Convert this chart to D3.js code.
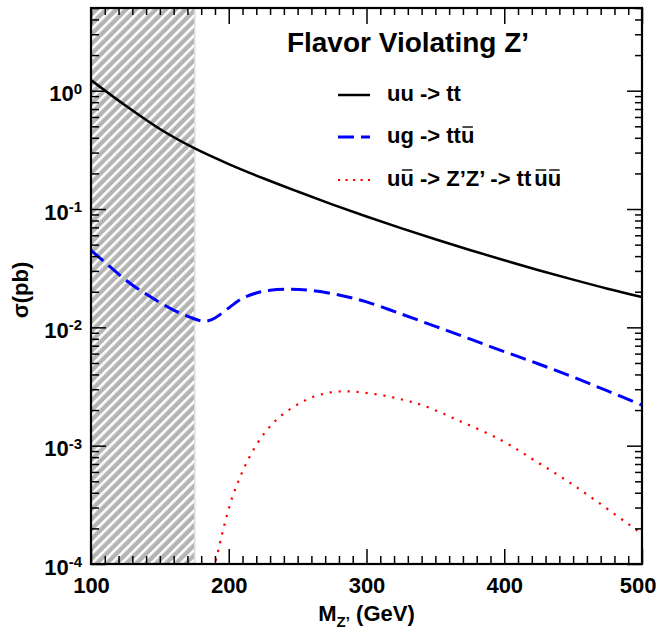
<!DOCTYPE html>
<html>
<head>
<meta charset="utf-8">
<script src="https://cdn.jsdelivr.net/npm/d3@7/dist/d3.min.js"></script>
<style>
  body { margin: 0; background: #fff; }
  svg text { font-family: "Liberation Sans", Arial, Helvetica, sans-serif; font-weight: bold; }
</style>
</head>
<body>
<div id="chart"></div>
<script>
// uu -> tt
var massUU = [100, 125, 150, 175, 200, 225, 250, 275, 300, 325, 350, 375, 400, 425, 450, 475, 500];
var sigmaUU = [1.23, 0.75, 0.475, 0.327, 0.24, 0.182, 0.1406, 0.1096, 0.0865, 0.069, 0.0556, 0.0451, 0.0369, 0.0304, 0.0253, 0.0212, 0.018];

// ug -> tt ubar
var massUG = [100, 110, 120, 130, 140, 150, 160, 170, 180, 185, 190, 200, 210, 220, 230, 245, 260, 280, 300, 325, 350, 375, 400, 425, 450, 475, 500];
var sigmaUG = [0.0447, 0.0356, 0.0282, 0.0228, 0.0191, 0.0162, 0.014, 0.01245, 0.01135, 0.01135, 0.012, 0.0146, 0.0176, 0.0195, 0.0206, 0.021, 0.0205, 0.0188, 0.0164, 0.013, 0.0102, 0.00798, 0.00624, 0.0049, 0.0038, 0.0029, 0.0022];

// u ubar -> Z'Z' -> tt ubar ubar
var massZZ = [189, 192, 195, 198, 202, 207, 212, 219, 227, 236, 248, 260, 274, 287, 301, 315, 328, 341, 367, 398, 422, 445, 468, 496, 500];
var sigmaZZ = [0.9e-4, 1.25e-4, 1.76e-4, 2.4e-4, 3.5e-4, 5.0e-4, 6.8e-4, 9.7e-4, 1.32e-3, 1.71e-3, 2.16e-3, 2.55e-3, 2.82e-3, 2.88e-3, 2.78e-3, 2.62e-3, 2.42e-3, 2.19e-3, 1.63e-3, 1.11e-3, 7.5e-4, 5.1e-4, 3.33e-4, 1.94e-4, 1.8e-4];

var massMajor = [100, 200, 300, 400, 500];
var sigmaDecades = [1e-4, 1e-3, 1e-2, 1e-1, 1];
var excludedMass = [100, 175];

var legendRows = [
    {color: "#000", dash: null, width: 2.5, parts: [{t: "uu -> tt"}]},
    {color: "#0000ff", dash: "16 7", width: 3, parts: [{t: "ug -> tt"}, {t: "u", over: true}]},
    {color: "#ff0000", dash: "2.2 5.3", width: 2.2, parts: [{t: "u"}, {t: "u", over: true}, {t: " -> Z\u2019Z\u2019 -> tt"}, {t: "uu", over: true, dx: 3}]}
];

var W = 658, H = 639;
var area = {l: 91, r: 642, t: 8, b: 564};

var svg = d3.select("#chart").append("svg")
    .attr("width", W).attr("height", H);

var x = d3.scaleLinear().domain([100, 500]).range([area.l, area.r]);
var y = d3.scaleLog().domain([1e-4, 5]).range([area.b, area.t]);

// hatch for excluded region
var defs = svg.append("defs");
var pat = defs.append("pattern")
    .attr("id", "hatch")
    .attr("patternUnits", "userSpaceOnUse")
    .attr("width", 7).attr("height", 7)
    .attr("patternTransform", "rotate(45)");
pat.append("rect").attr("width", 7).attr("height", 7).attr("fill", "#b4b4b4");
pat.append("rect").attr("width", 2.6).attr("height", 7).attr("fill", "#fff");

defs.append("clipPath").attr("id", "clip")
    .append("rect")
    .attr("x", area.l).attr("y", area.t)
    .attr("width", area.r - area.l).attr("height", area.b - area.t);

svg.append("rect")
    .attr("x", x(excludedMass[0])).attr("y", area.t)
    .attr("width", x(excludedMass[1]) - x(excludedMass[0]))
    .attr("height", area.b - area.t)
    .attr("fill", "url(#hatch)");
svg.append("line")
    .attr("x1", x(excludedMass[1]) + 0.5).attr("x2", x(excludedMass[1]) + 0.5)
    .attr("y1", area.t).attr("y2", area.b)
    .attr("stroke", "#dedede").attr("stroke-width", 1.5);

// curves
function series(ms, vs) {
    return ms.map(function(m, i) { return {m: m, v: vs[i]}; });
}
var line = d3.line()
    .x(function(d) { return x(d.m); })
    .y(function(d) { return y(d.v); })
    .curve(d3.curveCatmullRom.alpha(0.5));

var curves = svg.append("g").attr("clip-path", "url(#clip)");
curves.append("path").datum(series(massUU, sigmaUU))
    .attr("d", line).attr("fill", "none")
    .attr("stroke", legendRows[0].color).attr("stroke-width", legendRows[0].width);
curves.append("path").datum(series(massUG, sigmaUG))
    .attr("d", line).attr("fill", "none")
    .attr("stroke", legendRows[1].color).attr("stroke-width", legendRows[1].width)
    .attr("stroke-dasharray", legendRows[1].dash);
curves.append("path").datum(series(massZZ, sigmaZZ))
    .attr("d", line).attr("fill", "none")
    .attr("stroke", legendRows[2].color).attr("stroke-width", legendRows[2].width)
    .attr("stroke-dasharray", "2.2 6.8");

// axes: ticks point inward on all four sides
var minorMass = d3.range(100, 501, 10).filter(function(d) { return d % 100 !== 0; });
var minorSigma = [];
sigmaDecades.concat([10]).forEach(function(dec) {
    for (var k = 2; k <= 9; k++) {
        var v = dec * k;
        if (v <= 5.0001) minorSigma.push(v);
    }
});

function styleAxis(g) {
    g.select(".domain").remove();
    g.selectAll(".tick line").attr("stroke", "#000").attr("stroke-width", 1.5);
    g.attr("font-family", null).attr("font-size", null);
}

// bottom
svg.append("g").attr("transform", "translate(0," + area.b + ")")
    .call(d3.axisBottom(x).tickValues(minorMass).tickSizeInner(-8).tickSizeOuter(0).tickFormat(""))
    .call(styleAxis);
var xb = svg.append("g").attr("transform", "translate(0," + area.b + ")")
    .call(d3.axisBottom(x).tickValues(massMajor).tickSizeInner(-15).tickSizeOuter(0).tickPadding(13).tickFormat(d3.format("d")))
    .call(styleAxis);
xb.selectAll(".tick text").attr("font-size", 22).attr("fill", "#000");
// last label is pulled in so it stays inside the canvas
xb.selectAll(".tick text").filter(function(d) { return d === 500; })
    .attr("text-anchor", "end").attr("x", 14);

// top
svg.append("g").attr("transform", "translate(0," + area.t + ")")
    .call(d3.axisTop(x).tickValues(minorMass).tickSizeInner(-7).tickSizeOuter(0).tickFormat(""))
    .call(styleAxis);
svg.append("g").attr("transform", "translate(0," + area.t + ")")
    .call(d3.axisTop(x).tickValues(massMajor).tickSizeInner(-16).tickSizeOuter(0).tickFormat(""))
    .call(styleAxis);

// left
svg.append("g").attr("transform", "translate(" + area.l + ",0)")
    .call(d3.axisLeft(y).tickValues(minorSigma).tickSizeInner(-8).tickSizeOuter(0).tickFormat(""))
    .call(styleAxis);
var yl = svg.append("g").attr("transform", "translate(" + area.l + ",0)")
    .call(d3.axisLeft(y).tickValues(sigmaDecades).tickSizeInner(-15).tickSizeOuter(0).tickPadding(9).tickFormat(""))
    .call(styleAxis);
yl.selectAll(".tick text")
    .attr("font-size", 22).attr("fill", "#000").attr("dy", 10)
    .each(function(d) {
        var t = d3.select(this);
        t.append("tspan").text("10");
        t.append("tspan").attr("font-size", 15).attr("dy", -7.5).text(Math.round(Math.log10(d)));
    });

// right
svg.append("g").attr("transform", "translate(" + area.r + ",0)")
    .call(d3.axisRight(y).tickValues(minorSigma).tickSizeInner(-7).tickSizeOuter(0).tickFormat(""))
    .call(styleAxis);
svg.append("g").attr("transform", "translate(" + area.r + ",0)")
    .call(d3.axisRight(y).tickValues(sigmaDecades).tickSizeInner(-15).tickSizeOuter(0).tickFormat(""))
    .call(styleAxis);

// frame
svg.append("rect")
    .attr("x", area.l).attr("y", area.t)
    .attr("width", area.r - area.l).attr("height", area.b - area.t)
    .attr("fill", "none").attr("stroke", "#000").attr("stroke-width", 2.2);

// axis titles
var xt = svg.append("text")
    .attr("x", (area.l + area.r) / 2).attr("y", 621)
    .attr("text-anchor", "middle").attr("font-size", 22);
xt.append("tspan").text("M");
xt.append("tspan").attr("font-size", 15).attr("dy", 6).text("Z\u2019");
xt.append("tspan").attr("dy", -6).text(" (GeV)");

svg.append("text")
    .attr("transform", "translate(28," + ((area.t + area.b) / 2 + 4) + ") rotate(-90)")
    .attr("text-anchor", "middle").attr("font-size", 22)
    .text("\u03c3(pb)");

// title
svg.append("text")
    .attr("x", 408).attr("y", 52)
    .attr("text-anchor", "middle").attr("font-size", 28)
    .text("Flavor Violating Z\u2019");

// legend
var legY = [95, 137, 180];
legendRows.forEach(function(row, i) {
    var g = svg.append("g");
    g.append("line")
        .attr("x1", 338).attr("x2", 370)
        .attr("y1", legY[i]).attr("y2", legY[i])
        .attr("stroke", row.color).attr("stroke-width", row.width)
        .attr("stroke-dasharray", row.dash);
    var txt = g.append("text")
        .attr("x", 387).attr("y", legY[i] + 6)
        .attr("font-size", 22).attr("fill", "#000");
    row.parts.forEach(function(p) {
        txt.append("tspan").attr("dx", p.dx || null).text(p.t);
    });
    // overlines for antiquarks
    var node = txt.node(), idx = 0;
    row.parts.forEach(function(p) {
        if (p.over) {
            for (var c = 0; c < p.t.length; c++) {
                var s = node.getStartPositionOfChar(idx + c);
                var e = node.getEndPositionOfChar(idx + c);
                g.append("line")
                    .attr("x1", s.x + 1.5).attr("x2", e.x - 1.5)
                    .attr("y1", legY[i] + 6 - 16).attr("y2", legY[i] + 6 - 16)
                    .attr("stroke", "#000").attr("stroke-width", 1.4);
            }
        }
        idx += p.t.length;
    });
});
</script>
</body>
</html>
